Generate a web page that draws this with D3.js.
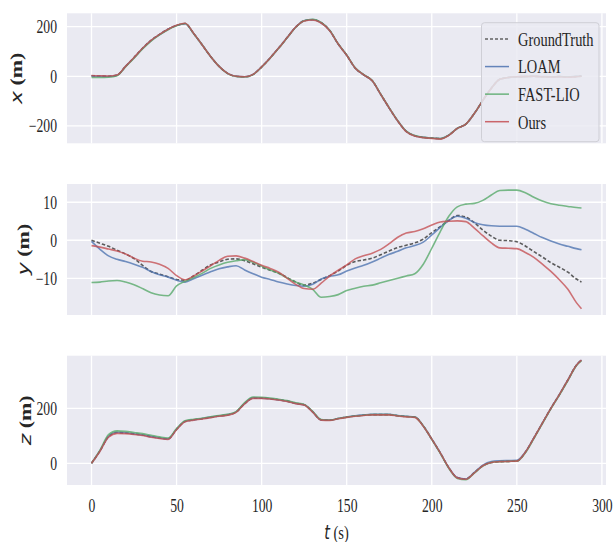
<!DOCTYPE html>
<html><head><meta charset="utf-8">
<script src="https://cdn.jsdelivr.net/npm/d3@7"></script>
<style>body{margin:0;background:#fff;}svg{display:block;}</style>
</head><body>
<svg id="chart" width="614" height="542"></svg>
<script>
// ---------- DATA ----------
const tGrid = [0,5,10,15,20,25,30,35,40,45,50,55,60,65,70,75,80,85,90,95,100,105,110,115,120,125,130,135,140,145,150,155,160,165,170,175,180,185,190,195,200,205,210,215,220,225,230,235,240,245,250,255,260,265,270,275,280,285,288];
const seriesNames = ["GroundTruth","LOAM","FAST-LIO","Ours"];

const xGT   = [2,1,0,5,40,76,113,145,169,190, 205,213,173,127,80,40,12,0,-2,8, 38,74,114,156,198,224,228,216,185,130, 85,33,6,-18,-73,-128,-180,-222,-240,-246, -249,-251,-237,-210,-193,-150,-97,-48,-12,-5, -2,-1,0,-2,-2,-1,-3,-1,1];
const xLOAM = [1,0,-1,4,40,75,112,144,168,190, 205,212,173,127,80,40,12,0,-2,8, 38,74,114,156,198,224,229,216,185,130, 85,33,6,-18,-73,-128,-180,-222,-240,-246, -249,-251,-237,-210,-193,-150,-97,-48,-12,-5, -2,-1,0,-1,-2,-1,-2,0,1];
const xFAST = [-5,-5,-4,2,38,73,110,142,167,188, 204,213,173,127,80,40,11,-1,-3,7, 37,73,113,155,197,224,230,217,186,131, 86,34,7,-17,-72,-127,-179,-221,-239,-246, -249,-251,-237,-210,-193,-150,-97,-48,-12,-5, -2,-1,0,-2,-2,-1,-2,-1,0];
const xOurs = [3,2,1,5,40,76,113,145,169,190, 206,214,174,127,80,40,12,0,-2,8, 38,74,114,156,198,223,227,215,184,130, 85,33,6,-18,-73,-128,-180,-223,-241,-247, -250,-253,-238,-210,-193,-150,-97,-48,-12,-5, -2,-1,0,-2,-3,-2,-4,-2,0];

const yGT   = [0,-0.8,-1.6,-2.6,-3.6,-4.8,-6.6,-8.2,-8.9,-9.6, -10.3,-10.5,-9.4,-7.9,-6.5,-5.7,-5.0,-4.9,-5.4,-6.2, -7.1,-7.9,-8.7,-9.8,-11.0,-11.8,-11.3,-10.3,-9.3,-8.1, -6.6,-5.6,-5.2,-4.7,-3.8,-2.8,-1.9,-1.3,-0.7,0.3, 2.0,3.6,5.2,6.5,6.1,4.6,2.7,1.1,0,-0.1, -0.4,-1.5,-3.0,-4.4,-5.9,-7.1,-8.4,-10.2,-11.0];
const yLOAM = [-0.3,-2.4,-4.1,-5.0,-5.6,-6.3,-7.1,-8.2,-9.1,-9.7, -10.5,-11.0,-10.1,-9.2,-8.3,-7.5,-7.0,-6.7,-7.8,-8.8, -9.7,-10.3,-11.0,-11.5,-11.9,-12.1,-11.6,-10.2,-9.5,-9.1, -8.1,-7.3,-6.6,-5.7,-4.7,-3.7,-2.9,-2.0,-1.4,-0.5, 1.4,3.4,5.2,6.3,5.8,4.7,4.1,3.8,3.7,3.7, 3.7,2.9,1.8,0.7,-0.2,-1.0,-1.6,-2.2,-2.5];
const yFAST = [-11.1,-11.0,-10.7,-10.6,-11.0,-11.7,-12.7,-13.8,-14.4,-14.6, -12.0,-10.8,-9.8,-8.7,-7.4,-6.5,-5.8,-5.4,-5.1,-5.8, -6.8,-7.8,-8.7,-9.9,-11.0,-11.8,-12.9,-15.0,-14.8,-14.3, -13.2,-12.6,-12.1,-11.8,-11.2,-10.6,-10.0,-9.4,-8.8,-6.3, -2.1,2.3,6.3,8.8,9.5,9.7,10.5,11.9,13.1,13.2, 13.2,12.5,11.3,10.3,9.6,9.2,8.9,8.6,8.5];
const yOurs = [-1.4,-1.8,-2.3,-2.8,-3.6,-4.7,-5.5,-5.7,-6.3,-7.4, -9.3,-10.4,-9.4,-8.1,-6.7,-5.3,-4.2,-4.1,-4.7,-5.6, -6.6,-7.4,-8.4,-10.0,-11.6,-12.7,-12.9,-11.3,-9.4,-7.9, -6.5,-4.9,-4.1,-3.4,-2.4,-0.9,0.8,1.9,2.3,3.0, 4.0,4.8,5.0,5.1,4.9,3.2,1.2,-0.7,-2.0,-2.1, -2.2,-3.2,-4.5,-6.3,-8.2,-10.4,-12.9,-16.4,-18.0];

const zGT   = [0,45,97,112,110,107,103,97,92,89, 124,152,158,162,167,172,176,186,217,237, 237,235,231,226,218,213,187,158,157,163, 168,172,175,177,177,177,173,170,168,136, 88,38,-16,-52,-57,-34,-9,3,6,7, 8,40,92,146,200,250,303,357,375];
const zLOAM = [0,46,98,113,111,107,103,97,92,89, 124,153,158,163,168,172,177,187,218,238, 237,235,231,226,218,213,187,158,157,163, 168,173,176,178,178,178,174,171,169,136, 88,38,-16,-52,-57,-33,-7,6,9,10, 11,41,92,146,200,250,303,357,375];
const zFAST = [0,48,104,118,116,112,108,102,96,92, 126,155,160,164,169,174,178,188,221,241, 240,237,233,228,220,214,189,159,157,163, 168,172,175,177,177,177,173,170,168,136, 87,36,-18,-55,-60,-36,-10,3,6,7, 8,38,90,144,198,248,301,355,373];
const zOurs = [0,44,95,109,108,105,101,95,90,87, 122,151,157,161,166,171,175,185,216,236, 236,234,230,225,217,212,186,157,156,162, 167,171,174,176,176,176,172,169,167,135, 88,38,-16,-53,-58,-35,-9,3,6,7, 8,40,92,146,200,250,303,357,375];

const tTicks = [0,50,100,150,200,250,300];
const xPanelTicks = [-200,0,200];
const yPanelTicks = [-10,0,10];
const zPanelTicks = [0,200];

// ---------- STYLE / LAYOUT ----------
const colors = {"GroundTruth":"#4a4a4a","LOAM":"#4c72b0","FAST-LIO":"#55a868","Ours":"#c44e52"};
const SQ = 0.76;         // horizontal squeeze of text
const svg = d3.select("#chart");
const xs = d3.scaleLinear().domain([-14.4, 302.4]).range([67, 606]);

const panels = [
  {label:"x", top:13.3, bottom:143.3, domain:[-270,254], ticks:xPanelTicks, labelX:16,
   data:[xGT,xLOAM,xFAST,xOurs]},
  {label:"y", top:184, bottom:315, domain:[-19.66,14.8], ticks:yPanelTicks, labelX:23,
   data:[yGT,yLOAM,yFAST,yOurs]},
  {label:"z", top:355.7, bottom:485, domain:[-78.9,391.3], ticks:zPanelTicks, labelX:25,
   data:[zGT,zLOAM,zFAST,zOurs]}
];

panels.forEach((p, pi) => {
  const ys = d3.scaleLinear().domain(p.domain).range([p.bottom, p.top]);
  const g = svg.append("g");
  g.append("rect").attr("x", xs.range()[0]).attr("y", p.top)
    .attr("width", xs.range()[1]-xs.range()[0]).attr("height", p.bottom-p.top)
    .attr("fill", "#eaeaf2");
  // grid
  g.selectAll(".vg").data(tTicks.filter(t => xs(t) <= xs.range()[1])).enter().append("line")
    .attr("x1", d => xs(d)).attr("x2", d => xs(d)).attr("y1", p.top).attr("y2", p.bottom)
    .attr("stroke", "#fff").attr("stroke-width", 1.3);
  g.selectAll(".hg").data(p.ticks).enter().append("line")
    .attr("x1", xs.range()[0]).attr("x2", xs.range()[1]).attr("y1", d => ys(d)).attr("y2", d => ys(d))
    .attr("stroke", "#fff").attr("stroke-width", 1.3);

  // y axis
  const ax = g.append("g").attr("transform", `translate(${xs.range()[0]},0)`)
    .call(d3.axisLeft(ys).tickValues(p.ticks).tickSize(0).tickFormat(d => d < 0 ? "\u2212" + Math.abs(d) : d));
  ax.select(".domain").remove();
  ax.selectAll("text").attr("font-family", "'Liberation Serif', serif").attr("font-size", 18)
    .attr("fill", "#262626").attr("x", -10 / SQ).attr("transform", `scale(${SQ},1)`);

  // series
  const line = d3.line().x((d, i) => xs(tGrid[i])).y(d => ys(d)).curve(d3.curveMonotoneX);
  seriesNames.forEach((name, si) => {
    const path = g.append("path").datum(p.data[si]).attr("d", line)
      .attr("fill", "none").attr("stroke", colors[name]).attr("stroke-width", 1.6)
      .attr("stroke-opacity", si === 0 ? 0.9 : 0.78).attr("stroke-linejoin", "round");
    if (si === 0) path.attr("stroke-dasharray", "3.5,2");
  });

  // axis label (rotated)
  const cy = (p.top + p.bottom) / 2;
  const lt = g.append("text")
    .attr("transform", `translate(${p.labelX},${cy}) scale(0.72,1) rotate(-90)`)
    .attr("text-anchor", "middle").attr("dy", "0.35em").attr("font-size", 22).attr("fill", "#262626");
  lt.append("tspan").attr("font-family", "'DejaVu Sans', sans-serif").attr("font-style", "italic").text(p.label);
  lt.append("tspan").attr("font-family", "'Liberation Serif', serif").attr("font-weight", "bold").text(" (m)");

  if (pi === 2) {
    const bx = g.append("g").attr("transform", `translate(0,${p.bottom})`)
      .call(d3.axisBottom(xs).tickValues(tTicks).tickSize(0));
    bx.select(".domain").remove();
    bx.selectAll("text").attr("font-family", "'Liberation Serif', serif").attr("font-size", 18)
      .attr("fill", "#262626").attr("y", 21.7).attr("dy", "0.32em").attr("transform", `scale(${SQ},1)`);
    const xl = svg.append("text")
      .attr("transform", `translate(${(xs.range()[0] + xs.range()[1]) / 2},532) scale(${SQ},1)`)
      .attr("text-anchor", "middle").attr("dy", "0.35em").attr("font-size", 19).attr("fill", "#262626");
    xl.append("tspan").attr("font-family", "'DejaVu Sans', sans-serif").attr("font-style", "italic").text("t");
    xl.append("tspan").attr("font-family", "'Liberation Serif', serif").text(" (s)");
  }
});

// ---------- LEGEND ----------
const lg = svg.append("g");
lg.append("rect").attr("x", 481.5).attr("y", 22.7).attr("width", 117.5).attr("height", 119)
  .attr("rx", 3).attr("fill", "#eaeaf2").attr("fill-opacity", 0.85)
  .attr("stroke", "#cfcfd6").attr("stroke-width", 1);
const ly = d3.scalePoint().domain(seriesNames).range([39, 121.7]);
seriesNames.forEach((name, i) => {
  const l = lg.append("line").attr("x1", 485).attr("x2", 509).attr("y1", ly(name)).attr("y2", ly(name))
    .attr("stroke", colors[name]).attr("stroke-width", 1.5).attr("stroke-opacity", 0.85);
  if (i === 0) l.attr("stroke-dasharray", "3,2");
  lg.append("text").attr("transform", `translate(518,${ly(name)}) scale(0.74,1)`)
    .attr("dy", "0.35em").attr("font-family", "'Liberation Serif', serif").attr("font-size", 19.5)
    .attr("fill", "#262626").text(name);
});
</script>
</body></html>
